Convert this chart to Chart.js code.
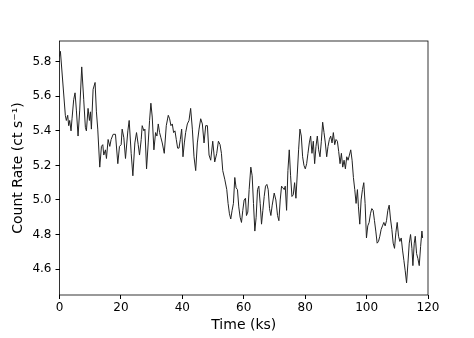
<!DOCTYPE html>
<html>
<head>
<meta charset="utf-8">
<script src="https://cdn.jsdelivr.net/npm/chart.js@4/dist/chart.umd.min.js"></script>
<style>
  body { margin: 0; background: #fff; }
  #wrap { width: 474px; height: 338px; }
</style>
</head>
<body>
<div id="wrap"><canvas id="lc" width="474" height="338"></canvas></div>
<script>
// light curve
const timeKs = [
  0, 0.3, 1.9, 2.23, 2.67, 2.99, 3.32, 3.75, 4.08, 4.62, 5.06, 5.5, 6.04, 6.58, 7.24, 7.89,
  8.43, 8.76, 9.3, 9.74, 10.07, 10.39, 10.94, 11.59, 12.02, 12.46, 13.11, 13.66, 14.09, 14.42,
  14.96, 15.29, 15.83, 16.38, 16.81, 17.47, 18.23, 18.99, 19.53, 20.08, 20.4, 20.95, 21.49,
  22.26, 22.69, 23.34, 23.89, 24.54, 25.08, 25.63, 26.06, 26.61, 26.93, 27.48, 27.81, 28.35,
  28.89, 29.33, 29.76, 30.2, 30.74, 31.29, 31.72, 32.16, 32.59, 33.03, 33.46, 34.12, 34.77,
  35.42, 35.86, 36.29, 36.73, 37.16, 37.6, 38.03, 38.47, 38.91, 39.34, 39.78, 40.21, 40.65,
  41.08, 41.63, 42.17, 42.71, 43.26, 43.8, 44.35, 44.89, 45.44, 45.98, 46.52, 47.07, 47.61,
  48.16, 48.7, 49.24, 49.9, 50.55, 51.2, 51.75, 52.29, 52.73, 53.16, 53.81, 54.47, 54.9,
  55.34, 55.77, 56.21, 56.64, 57.08, 57.51, 57.95, 58.38, 58.82, 59.26, 59.69, 60.13, 60.56,
  60.89, 61.32, 61.76, 62.3, 62.74, 63.17, 63.61, 64.04, 64.48, 64.91, 65.35, 65.79, 66.22,
  66.66, 67.09, 67.53, 67.96, 68.4, 68.83, 69.27, 69.92, 70.46, 71.01, 71.44, 71.88, 72.31,
  72.75, 73.19, 73.51, 73.95, 74.38, 74.82, 75.25, 75.69, 76.12, 76.56, 76.99, 77.43, 77.86,
  78.3, 78.74, 79.17, 79.61, 80.04, 80.48, 80.91, 81.35, 81.78, 82.22, 82.65, 83.09, 83.52,
  83.96, 84.39, 84.83, 85.27, 85.7, 86.14, 86.57, 87.01, 87.44, 87.88, 88.31, 88.75, 89.18,
  89.62, 90.05, 90.49, 90.92, 91.36, 91.8, 92.23, 92.67, 93.1, 93.54, 93.97, 94.41, 94.84,
  95.28, 95.71, 96.15, 96.58, 97.02, 97.35, 97.78, 98.22, 98.65, 99.09, 99.52, 99.96, 100.39,
  100.83, 101.26, 101.7, 102.13, 102.57, 103.0, 103.44, 103.88, 104.31, 104.75, 105.18,
  105.62, 106.05, 106.49, 106.92, 107.36, 107.79, 108.23, 108.66, 109.1, 109.53, 109.97,
  110.41, 110.84, 111.28, 111.71, 112.15, 112.58, 113.02, 113.45, 113.89, 114.32, 114.76,
  115.08, 115.52, 115.85, 116.28, 116.72, 117.15, 117.59, 118.02, 118.24
];
const countRate = [
  5.83, 5.86, 5.49, 5.46, 5.49, 5.43, 5.46, 5.40, 5.47, 5.58, 5.62, 5.52, 5.37, 5.52, 5.77, 5.58,
  5.42, 5.40, 5.53, 5.46, 5.51, 5.41, 5.64, 5.68, 5.51, 5.41, 5.19, 5.31, 5.32, 5.26,
  5.29, 5.24, 5.35, 5.31, 5.35, 5.38, 5.38, 5.21, 5.31, 5.32, 5.41, 5.36, 5.24,
  5.40, 5.46, 5.27, 5.14, 5.33, 5.39, 5.32, 5.26, 5.35, 5.43, 5.40, 5.41, 5.18,
  5.33, 5.46, 5.56, 5.48, 5.29, 5.39, 5.37, 5.44, 5.39, 5.36, 5.33, 5.27, 5.43,
  5.49, 5.47, 5.43, 5.44, 5.39, 5.40, 5.35, 5.30, 5.30, 5.35, 5.41, 5.25, 5.33,
  5.39, 5.44, 5.46, 5.53, 5.41, 5.25, 5.17, 5.33, 5.41, 5.47, 5.44, 5.33, 5.43,
  5.43, 5.26, 5.23, 5.34, 5.22, 5.27, 5.34, 5.32, 5.27, 5.17, 5.12, 5.06, 4.98,
  4.92, 4.89, 4.94, 4.98, 5.13, 5.07, 5.06, 4.96, 4.90, 4.87, 4.94, 5.00, 5.01,
  4.91, 4.93, 5.06, 5.19, 5.14, 4.98, 4.82, 4.90, 5.06, 5.08, 4.98, 4.86, 4.94,
  5.02, 5.08, 5.09, 5.06, 4.95, 4.91, 4.97, 5.04, 5.00, 4.91, 4.88, 5.00, 5.08,
  5.07, 5.06, 5.08, 4.94, 5.17, 5.29, 5.14, 5.02, 5.03, 5.10, 5.01, 5.15, 5.29,
  5.41, 5.37, 5.25, 5.20, 5.18, 5.21, 5.27, 5.33, 5.37, 5.27, 5.34, 5.21, 5.31,
  5.37, 5.29, 5.25, 5.34, 5.45, 5.39, 5.33, 5.25, 5.31, 5.35, 5.37, 5.33, 5.39,
  5.32, 5.35, 5.34, 5.28, 5.21, 5.27, 5.19, 5.23, 5.18, 5.25, 5.23, 5.26, 5.29,
  5.23, 5.13, 5.06, 4.98, 5.06, 4.96, 4.86, 5.00, 5.06, 5.10, 4.98, 4.78, 4.85,
  4.87, 4.92, 4.95, 4.94, 4.88, 4.82, 4.75, 4.76, 4.79, 4.83, 4.85,
  4.87, 4.85, 4.88, 4.94, 4.97, 4.89, 4.83, 4.75, 4.72, 4.81, 4.87,
  4.79, 4.76, 4.78, 4.71, 4.65, 4.59, 4.52, 4.63, 4.75, 4.80, 4.72,
  4.62, 4.75, 4.79, 4.69, 4.66, 4.62, 4.73, 4.82, 4.78
];
const xTicks = [0, 20, 40, 60, 80, 100, 120];
const yTicks = [4.6, 4.8, 5.0, 5.2, 5.4, 5.6, 5.8];

const points = timeKs.map((t, i) => ({ x: t, y: countRate[i] }));

// matplotlib-style box around the axes
const frame = {
    id: 'frame',
    afterDraw(chart) {
        const a = chart.chartArea;
        const ctx = chart.ctx;
        ctx.save();
        ctx.strokeStyle = '#000';
        ctx.lineWidth = 0.8;
        ctx.strokeRect(a.left, a.top, a.right - a.left, a.bottom - a.top);
        ctx.restore();
    }
};

const tickFont = { family: 'DejaVu Sans', size: 12 };
const titleFont = { family: 'DejaVu Sans', size: 14 };

new Chart(document.getElementById('lc').getContext('2d'), {
    type: 'line',
    data: {
        datasets: [{
            data: points,
            borderColor: '#222',
            borderWidth: 1,
            pointRadius: 0,
            tension: 0,
            fill: false
        }]
    },
    options: {
        responsive: false,
        animation: false,
        devicePixelRatio: 1,
        layout: { padding: { top: 41, right: 46, left: 0, bottom: 0 } },
        plugins: { legend: { display: false }, tooltip: { enabled: false } },
        scales: {
            x: {
                type: 'linear',
                min: 0,
                max: 120,
                afterBuildTicks: s => { s.ticks = xTicks.map(v => ({ value: v })); },
                afterFit: s => { s.height = 43; },
                grid: { drawOnChartArea: false, drawTicks: true, tickLength: 4, tickColor: '#000' },
                border: { display: false },
                ticks: { color: '#000', font: tickFont, padding: 2, maxRotation: 0 },
                title: { display: true, text: 'Time (ks)', color: '#000', font: titleFont, padding: { top: 0, bottom: 4 } }
            },
            y: {
                min: 4.45,
                max: 5.92,
                afterBuildTicks: s => { s.ticks = yTicks.map(v => ({ value: v })); },
                afterFit: s => { s.width = 59.5; },
                grid: { drawOnChartArea: false, drawTicks: true, tickLength: 4, tickColor: '#000' },
                border: { display: false },
                ticks: { color: '#000', font: tickFont, padding: 4, callback: v => v.toFixed(1) },
                title: { display: true, text: 'Count Rate (ct s\u207B\u00B9)', color: '#000', font: titleFont, padding: { top: 10, bottom: 0 } }
            }
        }
    },
    plugins: [frame]
});
</script>
</body>
</html>
